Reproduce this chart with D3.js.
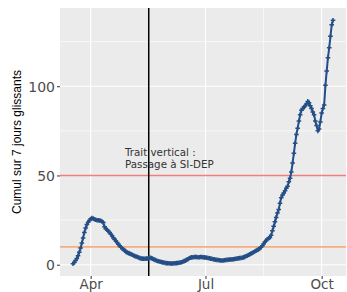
<!DOCTYPE html>
<html>
<head>
<meta charset="utf-8">
<script src="https://cdn.jsdelivr.net/npm/d3@7"></script>
<style>
  body { margin: 0; background: #fff; }
  svg { display: block; }
</style>
</head>
<body>
<div id="chart"></div>
<script>
// DONNEES
const DEBUT = "2020-03-18";
// cumul sur 7 jours glissants, un point par jour a partir de DEBUT
const CUMUL_7J = [
  0.5, 1.2, 2.3, 3.5, 5.0, 7.0, 9.3, 12.2, 15.0, 18.0,
  20.5, 22.5, 23.8, 24.8, 25.6, 26.2, 25.8, 25.5, 25.2, 24.9,
  24.9, 24.8, 24.6, 24.2, 23.6, 21.2, 20.2, 19.6, 18.8, 18.0,
  17.0, 16.2, 15.0, 14.2, 13.3, 12.4, 11.4, 10.6, 9.8, 9.1,
  8.5, 7.9, 7.2, 6.8, 6.5, 6.2, 5.9, 5.6, 5.2, 4.8,
  4.6, 4.3, 4.0, 3.7, 3.5, 3.4, 3.3, 3.3, 3.4, 3.5,
  3.7, 3.9, 3.7, 3.4, 3.0, 2.7, 2.4, 2.1, 1.9, 1.7,
  1.5, 1.3, 1.2, 1.0, 0.9, 0.8, 0.8, 0.7, 0.7, 0.7,
  0.8, 0.8, 0.9, 1.0, 1.1, 1.2, 1.4, 1.7, 2.0, 2.3,
  2.7, 3.1, 3.6, 3.9, 4.1, 4.2, 4.3, 4.3, 4.3, 4.2,
  4.2, 4.3, 4.3, 4.2, 4.1, 4.0, 3.9, 3.8, 3.6, 3.4,
  3.3, 3.1, 3.0, 2.8, 2.7, 2.6, 2.5, 2.4, 2.4, 2.4,
  2.5, 2.6, 2.7, 2.8, 2.9, 2.9, 3.0, 3.1, 3.2, 3.3,
  3.4, 3.6, 3.7, 3.8, 3.9, 4.1, 4.4, 4.7, 5.0, 5.4,
  5.8, 6.2, 6.6, 7.0, 7.4, 7.8, 8.2, 8.6, 9.1, 9.8,
  10.6, 11.6, 12.7, 13.6, 14.3, 14.8, 15.3, 16.5, 19.0, 21.5,
  24.0, 26.5, 29.0, 31.0, 34.5, 37.5, 39.0, 40.2, 41.5, 42.8,
  44.0, 46.5, 48.5, 52.0, 57.0, 62.5, 68.0, 73.0, 76.5, 80.5,
  84.0, 86.5, 87.5, 88.3, 89.0, 90.0, 91.5, 90.8, 89.0, 87.5,
  85.5, 84.0, 80.5, 78.0, 75.0, 76.0, 80.0, 85.0, 87.5, 89.5,
  100.5, 108.5, 116.0, 121.5, 128.0, 134.5, 137.0
];
const X_TICKS = ["2020-04-01", "2020-07-01", "2020-10-01"];
const X_LABELS = ["Apr", "Jul", "Oct"];
const Y_TICKS = [0, 50, 100];
const Y_MINOR = [25, 75, 125];
const SEUILS = [50, 10];
const SEUIL_COLORS = ["#F07F7F", "#F6AD80"];
const DATE_SIDEP = "2020-05-17";
const ANNOTATION = ["Trait vertical :", "Passage à SI-DEP"];
const Y_TITLE = "Cumul sur 7 jours glissants";

// DIMENSIONS
const WIDTH = 347;
const HEIGHT = 292;
const PANEL = { left: 60, right: 346, top: 8, bottom: 276 };
const LINE_COLOR = "#234E86";

const parse = d3.utcParse("%Y-%m-%d");
const start = parse(DEBUT);
const DATA = CUMUL_7J.map((v, i) => ({ date: d3.utcDay.offset(start, i), value: v }));

// expansion de 5% comme ggplot
function expand(ext) {
  const pad = (ext[1] - ext[0]) * 0.05;
  return [ext[0] - pad, ext[1] + pad];
}

const xExt = d3.extent(DATA, d => +d.date);
const xDom = expand(xExt).map(t => new Date(t));
const X = d3.scaleUtc().domain(xDom).range([PANEL.left, PANEL.right]);
const Y = d3.scaleLinear()
  .domain(expand(d3.extent(DATA, d => d.value)))
  .range([PANEL.bottom, PANEL.top]);

const xMajor = X_TICKS.map(parse);
const xMinor = d3.pairs(xMajor).map(p => new Date((+p[0] + +p[1]) / 2));

const SVG_SELECTION = d3.select("#chart").append("svg")
  .attr("width", WIDTH)
  .attr("height", HEIGHT);

// PANNEAU
SVG_SELECTION.append("rect")
  .attr("x", PANEL.left)
  .attr("y", PANEL.top)
  .attr("width", PANEL.right - PANEL.left)
  .attr("height", PANEL.bottom - PANEL.top)
  .attr("fill", "#EBEBEB");

const GRID = SVG_SELECTION.append("g").attr("stroke", "#fff").attr("fill", "none");

GRID.selectAll(".ymin").data(Y_MINOR).enter().append("line")
  .attr("x1", PANEL.left).attr("x2", PANEL.right)
  .attr("y1", d => Y(d)).attr("y2", d => Y(d))
  .attr("stroke-width", 0.6);
GRID.selectAll(".xmin").data(xMinor).enter().append("line")
  .attr("y1", PANEL.top).attr("y2", PANEL.bottom)
  .attr("x1", d => X(d)).attr("x2", d => X(d))
  .attr("stroke-width", 0.6);
GRID.selectAll(".ymaj").data(Y_TICKS).enter().append("line")
  .attr("x1", PANEL.left).attr("x2", PANEL.right)
  .attr("y1", d => Y(d)).attr("y2", d => Y(d))
  .attr("stroke-width", 1.1);
GRID.selectAll(".xmaj").data(xMajor).enter().append("line")
  .attr("y1", PANEL.top).attr("y2", PANEL.bottom)
  .attr("x1", d => X(d)).attr("x2", d => X(d))
  .attr("stroke-width", 1.1);

// SEUILS
SVG_SELECTION.selectAll(".seuil").data(SEUILS).enter().append("line")
  .attr("x1", PANEL.left).attr("x2", PANEL.right)
  .attr("y1", d => Y(d)).attr("y2", d => Y(d))
  .attr("stroke", (d, i) => SEUIL_COLORS[i])
  .attr("stroke-width", 1.6);

// TRAIT VERTICAL
SVG_SELECTION.append("line")
  .attr("x1", X(parse(DATE_SIDEP))).attr("x2", X(parse(DATE_SIDEP)))
  .attr("y1", PANEL.top).attr("y2", PANEL.bottom)
  .attr("stroke", "#000")
  .attr("stroke-width", 1.5);

// COURBE
SVG_SELECTION.append("path")
  .datum(DATA)
  .attr("fill", "none")
  .attr("stroke", LINE_COLOR)
  .attr("stroke-width", 2)
  .attr("stroke-linejoin", "round")
  .attr("d", d3.line().x(d => X(d.date)).y(d => Y(d.value)));

SVG_SELECTION.append("g")
  .selectAll("path").data(DATA).enter().append("path")
  .attr("d", d => {
    const x = X(d.date), y = Y(d.value), s = 2.3;
    return `M${x - s},${y}H${x + s}M${x},${y - s}V${y + s}`;
  })
  .attr("stroke", LINE_COLOR)
  .attr("stroke-width", 1.5);

// ANNOTATION
SVG_SELECTION.append("text")
  .attr("x", 125).attr("y", 156)
  .attr("font-family", "DejaVu Sans")
  .attr("font-size", 10.3)
  .attr("fill", "#333")
  .selectAll("tspan").data(ANNOTATION).enter().append("tspan")
  .attr("x", 125)
  .attr("dy", (d, i) => i ? 11.5 : 0)
  .text(d => d);

// AXES
const xAxis = d3.axisBottom(X)
  .tickValues(xMajor)
  .tickFormat((d, i) => X_LABELS[i])
  .tickSize(3)
  .tickPadding(0);
const yAxis = d3.axisLeft(Y)
  .tickValues(Y_TICKS)
  .tickSize(3)
  .tickPadding(2);

const gx = SVG_SELECTION.append("g")
  .attr("transform", `translate(0,${PANEL.bottom})`)
  .call(xAxis);
const gy = SVG_SELECTION.append("g")
  .attr("transform", `translate(${PANEL.left},0)`)
  .call(yAxis);

[gx, gy].forEach(g => {
  g.select(".domain").remove();
  g.selectAll(".tick line").attr("stroke", "#333").attr("stroke-width", 1);
  g.selectAll(".tick text")
    .attr("fill", "#4D4D4D")
    .attr("font-family", "DejaVu Sans")
    .attr("font-size", 14);
});
gx.selectAll(".tick text").attr("font-size", 13.5);
gy.selectAll(".tick text").attr("dy", "0.36em");

// TITRE Y
SVG_SELECTION.append("text")
  .attr("transform", `translate(21,${(PANEL.top + PANEL.bottom) / 2}) rotate(-90)`)
  .attr("text-anchor", "middle")
  .attr("font-family", "Liberation Sans, Arial, sans-serif")
  .attr("font-size", 12)
  .attr("fill", "#000")
  .text(Y_TITLE);
</script>
</body>
</html>
